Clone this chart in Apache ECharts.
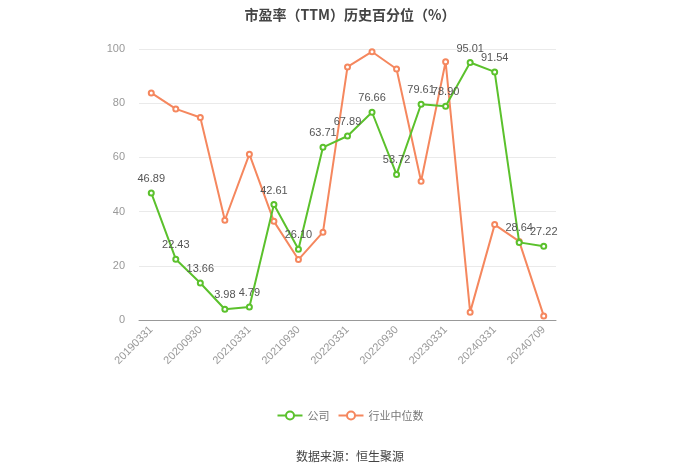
<!DOCTYPE html>
<html>
<head>
<meta charset="utf-8">
<script src="https://cdn.jsdelivr.net/npm/echarts@6/dist/echarts.min.js"></script>
<style>
  html, body { margin: 0; padding: 0; background: #fff; }
  #chart { width: 700px; height: 474px; }
</style>
</head>
<body>
<div id="chart"></div>
<script>
// 报告期
const categories = [
    '20190331', '20191231', '20200930', '20201231', '20210331', '20210630',
    '20210930', '20211231', '20220331', '20220630', '20220930', '20221231',
    '20230331', '20231231', '20240331', '20240630', '20240709'
];
// 公司 PE 历史百分位
const companyValues = [
    46.89, 22.43, 13.66, 3.98, 4.79, 42.61, 26.10, 63.71, 67.89,
    76.66, 53.72, 79.61, 78.90, 95.01, 91.54, 28.64, 27.22
];
// 行业中位数
const industryValues = [
    83.8, 77.9, 74.7, 36.8, 61.2, 36.4, 22.3, 32.4, 93.4,
    99.0, 92.6, 51.2, 95.3, 2.9, 35.2, 29.0, 1.5
];

const chart = echarts.init(document.getElementById('chart'));

const option = {
    title: {
        text: '市盈率（TTM）历史百分位（%）',
        left: 'center',
        top: 3,
        textStyle: {
            fontSize: 14,
            fontWeight: 'bold',
            color: '#444',
            fontFamily: 'Noto Sans CJK SC'
        }
    },
    legend: {
        data: ['公司', '行业中位数'],
        bottom: 48,
        left: 'center',
        itemWidth: 25,
        itemHeight: 10,
        textStyle: { color: '#777', fontSize: 11, fontFamily: 'Noto Sans CJK SC' }
    },
    graphic: [{
        type: 'text',
        left: 'center',
        top: 450,
        style: {
            text: '数据来源：恒生聚源',
            fill: '#444',
            fontSize: 12,
            fontFamily: 'Noto Sans CJK SC'
        }
    }],
    grid: {
        left: 139,
        right: 144,
        top: 49,
        bottom: 154
    },
    xAxis: {
        type: 'category',
        data: categories,
        boundaryGap: true,
        axisLine: { lineStyle: { color: '#999' } },
        axisTick: { alignWithLabel: true, interval: 1, lineStyle: { color: '#999' } },
        axisLabel: {
            interval: 1,
            rotate: 45,
            color: '#999',
            fontSize: 11,
            margin: 8
        }
    },
    yAxis: {
        type: 'value',
        min: 0,
        max: 100,
        interval: 20,
        axisLine: { show: false },
        axisTick: { show: false },
        axisLabel: { color: '#999', fontSize: 11, margin: 14 },
        splitLine: { lineStyle: { color: '#eaeaea' } }
    },
    series: [
        {
            name: '公司',
            type: 'line',
            data: companyValues,
            color: '#5bc12c',
            symbol: 'emptyCircle',
            symbolSize: 5,
            lineStyle: { width: 2 },
            label: {
                show: true,
                position: 'top',
                color: '#555',
                fontSize: 11,
                formatter: p => p.value.toFixed(2)
            },
            z: 3
        },
        {
            name: '行业中位数',
            type: 'line',
            data: industryValues,
            color: '#f5875e',
            symbol: 'emptyCircle',
            symbolSize: 5,
            lineStyle: { width: 2 },
            z: 2
        }
    ]
};

chart.setOption(option);
</script>
</body>
</html>
